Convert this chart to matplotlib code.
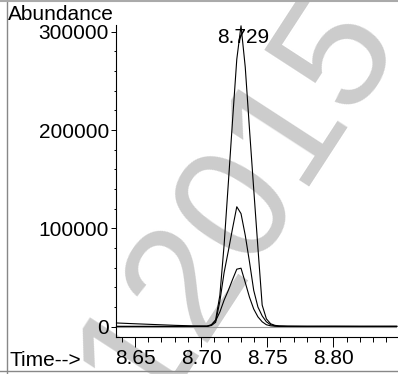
import matplotlib
matplotlib.use("Agg")
import matplotlib.pyplot as plt
from matplotlib.lines import Line2D
from matplotlib.ticker import MultipleLocator, FormatStrFormatter

plt.rcParams['font.family'] = ['Liberation Sans', 'DejaVu Sans']

# retention time (min)
times = [8.636, 8.650, 8.665, 8.680, 8.695, 8.7046, 8.7078, 8.7110, 8.7142, 8.7174,
         8.7206, 8.7238, 8.7270, 8.7302, 8.7334, 8.7366, 8.7398, 8.7430, 8.7462, 8.7494,
         8.7526, 8.7558, 8.7590, 8.7654, 8.780, 8.800, 8.820, 8.848]

# abundance of the three ion traces
ion_a = [3800, 3000, 2200, 1400, 800, 700, 2000, 7000, 32000, 83000,
         146000, 210000, 272000, 306000, 264000, 201000, 140000, 80000, 22000, 8000,
         3000, 1400, 800, 600, 500, 550, 450, 500]
ion_b = [400, 350, 380, 300, 350, 400, 1200, 4500, 26000, 55000,
         77000, 100000, 122000, 115000, 93000, 66000, 37000, 20000, 11000, 5000,
         2000, 900, 600, 400, 350, 300, 350, 300]
ion_c = [200, 250, 200, 220, 250, 300, 1800, 6000, 15000, 27000,
         37000, 48000, 58500, 59500, 45000, 30000, 18000, 10000, 5000, 2000,
         900, 500, 300, 250, 200, 250, 200, 220]

peak_label = "8.729"
peak_time = 8.7317
peak_label_y = 294000

fig = plt.figure(figsize=(3.98, 3.74), dpi=100)
ax = fig.add_axes([0.2907, 0.0989, 0.7068, 0.8342])
ax.patch.set_visible(False)

# watermark
fig.text(273 / 398, 150 / 374, "12015", fontsize=118, color='#cccccc',
         rotation=57, rotation_mode='anchor', ha='center', va='baseline', zorder=-1)

ax.axhline(0, color='#999999', lw=0.8, zorder=1)
for ys in (ion_a, ion_b, ion_c):
    ax.plot(times, ys, color='black', lw=0.8, zorder=2, clip_on=False)

ax.text(peak_time, peak_label_y, peak_label, fontsize=15, ha='center', va='center')

ax.set_xlim(8.6354, 8.8482)
ax.set_ylim(-10475, 306800)

ax.xaxis.set_major_locator(MultipleLocator(0.05))
ax.xaxis.set_minor_locator(MultipleLocator(0.01))
ax.xaxis.set_major_formatter(FormatStrFormatter('%.2f'))
ax.yaxis.set_major_locator(MultipleLocator(100000))
ax.yaxis.set_minor_locator(MultipleLocator(20000))
ax.yaxis.set_major_formatter(FormatStrFormatter('%d'))

ax.tick_params(axis='x', which='major', length=7.2, width=0.7, pad=1.5, labelsize=15)
ax.tick_params(axis='x', which='minor', length=3.6, width=0.7)
ax.tick_params(axis='y', which='major', length=3.6, width=0.7, pad=1.2, labelsize=15)
ax.tick_params(axis='y', which='minor', length=1.8, width=0.7)

ax.spines['top'].set_visible(False)
ax.spines['right'].set_visible(False)
ax.spines['left'].set_linewidth(0.8)
ax.spines['bottom'].set_linewidth(0.8)

fig.text(8 / 398, 1 - 14 / 374, "Abundance", fontsize=15, ha='left', va='center')
fig.text(10 / 398, 1 - 361 / 374, "Time-->", fontsize=15, ha='left', va='center')

# page frame
fig.add_artist(Line2D([7.5 / 398, 7.5 / 398], [0, 1], color='#888888', lw=1))
fig.add_artist(Line2D([0, 1], [1 - 1 / 374, 1 - 1 / 374], color='#aaaaaa', lw=1.5))
fig.add_artist(Line2D([0, 1], [1 - 371 / 374, 1 - 371 / 374], color='#888888', lw=1))

fig.savefig("out.png", dpi=100)
